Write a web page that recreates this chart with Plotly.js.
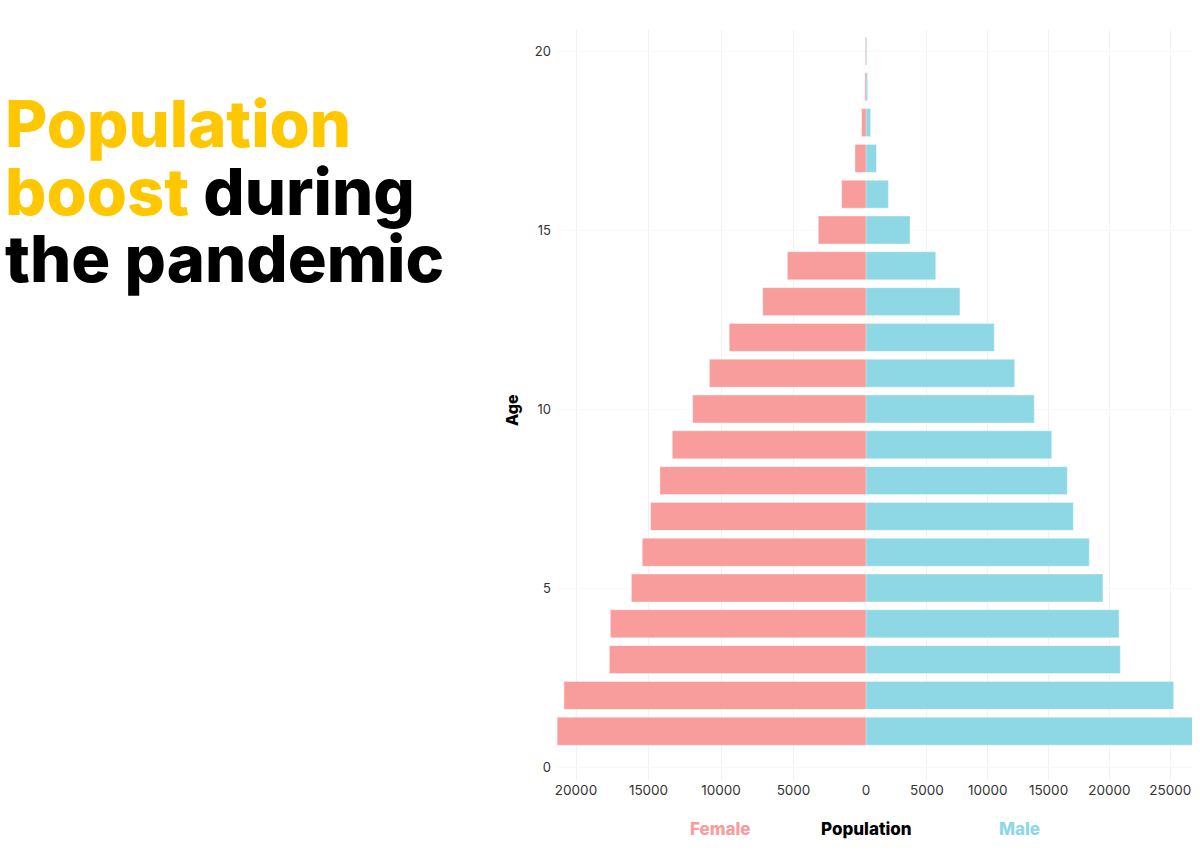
<!DOCTYPE html>
<html>
<head>
<meta charset="utf-8">
<script src="https://cdn.plot.ly/plotly-3.0.1.min.js"></script>
<style>
  html, body { margin: 0; padding: 0; background: #ffffff; }
  #chart { width: 1200px; height: 860px; }
</style>
</head>
<body>
<div id="chart"></div>
<script>
// ---- Data ----
const ages = [1, 2, 3, 4, 5, 6, 7, 8, 9, 10, 11, 12, 13, 14, 15, 16, 17, 18, 19, 20];
const female = [21300, 20830, 17700, 17630, 16180, 15430, 14850, 14210, 13360, 11950, 10800, 9430, 7120, 5420, 3290, 1680, 760, 300, 80, 50];
const male   = [27000, 25280, 20900, 20790, 19470, 18350, 17040, 16540, 15260, 13830, 12220, 10540, 7720, 5730, 3620, 1840, 860, 380, 130, 70];
const femaleTicks = [0, 5000, 10000, 15000, 20000];
const maleTicks = [5000, 10000, 15000, 20000, 25000];
const ageTicks = [0, 5, 10, 15, 20];
const titleLines = ["Population", "boost", "during", "the pandemic"];
const legendLabels = ["Female", "Population", "Male"];
const yTitle = "Age";

// ---- Style ----
const FEMALE_COLOR = "#F89C9C";
const MALE_COLOR = "#8ED8E6";
const YELLOW = "#FFC700";
const W = 1200, H = 860;
const M = {l: 556, r: 8, t: 30, b: 80};
const plotW = W - M.l - M.r, plotH = H - M.t - M.b;
const px = x => (x - M.l) / plotW;
const py = y => (H - M.b - y) / plotH;
const split = px(866);

const tickFont = {family: "Inter, 'Noto Sans', sans-serif", size: 13.5, color: "#333333"};

const traces = [
  {
    type: "bar", orientation: "h", name: legendLabels[0],
    y: ages, x: female, xaxis: "x", yaxis: "y",
    marker: {color: FEMALE_COLOR, line: {color: "rgba(255,255,255,0.35)", width: 1}},
    hoverinfo: "x+y"
  },
  {
    type: "bar", orientation: "h", name: legendLabels[2],
    y: ages, x: male, xaxis: "x2", yaxis: "y",
    marker: {color: MALE_COLOR, line: {color: "rgba(255,255,255,0.35)", width: 1}},
    hoverinfo: "x+y"
  }
];

const annFont = (size, color) => ({family: "Inter, 'Noto Sans', sans-serif", size: size, color: color, weight: 800});

const layout = {
  width: W, height: H,
  margin: M,
  paper_bgcolor: "#ffffff", plot_bgcolor: "#ffffff",
  showlegend: false,
  barmode: "overlay",
  bargap: 0.22,
  xaxis: {
    domain: [0, split], range: [21380, 0],
    tickvals: femaleTicks, ticktext: femaleTicks.map(String),
    showgrid: true, gridcolor: "#f2f2f4", zeroline: false,
    showline: false, ticks: "", tickfont: tickFont, anchor: "y"
  },
  xaxis2: {
    domain: [split, 1], range: [0, 26790],
    tickvals: maleTicks, ticktext: maleTicks.map(String),
    showgrid: true, gridcolor: "#f2f2f4", zeroline: false,
    showline: false, ticks: "", tickfont: tickFont, anchor: "y"
  },
  yaxis: {
    range: [-0.363, 20.587],
    tickvals: ageTicks, ticktext: ageTicks.map(String),
    showgrid: true, gridcolor: "#f9f9fa", zeroline: false,
    showline: false, ticks: "", tickfont: {family: "Inter, 'Noto Sans', sans-serif", size: 13, color: "#333333"},
    ticklabelstandoff: 4
  },
  annotations: [
    {xref: "paper", yref: "paper", x: px(3), y: py(148), xanchor: "left", yanchor: "bottom",
     text: titleLines[0], showarrow: false, font: annFont(65, YELLOW), yshift: -17},
    {xref: "paper", yref: "paper", x: px(3), y: py(216), xanchor: "left", yanchor: "bottom",
     text: "<span style='color:" + YELLOW + "'>" + titleLines[1] + "</span> " + titleLines[2],
     showarrow: false, font: annFont(65, "#000000"), yshift: -17},
    {xref: "paper", yref: "paper", x: px(3), y: py(283), xanchor: "left", yanchor: "bottom",
     text: titleLines[3], showarrow: false, font: annFont(65, "#000000"), yshift: -17},
    {xref: "paper", yref: "paper", x: px(512), y: py(410), xanchor: "center", yanchor: "middle",
     text: yTitle, textangle: -90, showarrow: false, font: annFont(16, "#000000")},
    {xref: "paper", yref: "paper", x: px(720), y: py(829), xanchor: "center", yanchor: "middle",
     text: legendLabels[0], showarrow: false, font: annFont(17, FEMALE_COLOR)},
    {xref: "paper", yref: "paper", x: px(866), y: py(829), xanchor: "center", yanchor: "middle",
     text: legendLabels[1], showarrow: false, font: annFont(17, "#000000")},
    {xref: "paper", yref: "paper", x: px(1019), y: py(829), xanchor: "center", yanchor: "middle",
     text: legendLabels[2], showarrow: false, font: annFont(17, MALE_COLOR)}
  ]
};

Plotly.newPlot("chart", traces, layout, {displayModeBar: false, staticPlot: true});
</script>
</body>
</html>
